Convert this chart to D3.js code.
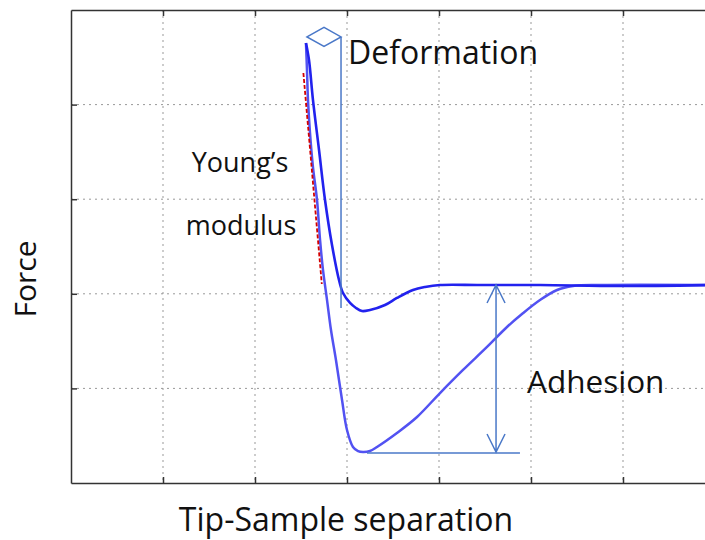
<!DOCTYPE html>
<meta charset="utf-8">
<style>
    body { margin: 0; background: #fff; }
    .grid line { stroke: #999; stroke-width: 1; stroke-dasharray: 2, 4; }
    .axis path, .axis line { stroke: #333; stroke-width: 1.5; }
    text { font-family: "Open Sans", sans-serif; fill: #111; }
</style>
<body>
<svg width="705" height="540"></svg>
<script src="https://d3js.org/d3.v7.min.js"></script>
<script>
    // curve data (arbitrary units)
    var approachX = [2.554, 2.587, 2.630, 2.696, 2.761, 2.837, 2.913, 2.957, 3.033, 3.098, 3.163, 3.250, 3.413, 3.543, 3.717, 3.848, 4.011, 4.446, 5.098, 5.967, 6.95];
    var approachY = [4.651, 4.471, 4.049, 3.520, 2.992, 2.516, 2.146, 2.008, 1.903, 1.850, 1.818, 1.829, 1.882, 1.956, 2.040, 2.072, 2.093, 2.093, 2.093, 2.082, 2.093];

    var retractX = [2.554, 2.565, 2.576, 2.598, 2.630, 2.674, 2.707, 2.739, 2.783, 2.826, 2.880, 2.946, 3.000, 3.065, 3.120, 3.174, 3.250, 3.326, 3.543, 3.761, 4.011, 4.261, 4.522, 4.739, 4.902, 5.098, 5.283, 5.457, 5.750, 6.95];
    var retractY = [4.651, 4.366, 4.049, 3.700, 3.340, 2.992, 2.569, 2.252, 1.934, 1.617, 1.300, 0.877, 0.560, 0.381, 0.338, 0.328, 0.338, 0.381, 0.529, 0.698, 0.951, 1.195, 1.438, 1.649, 1.786, 1.934, 2.040, 2.082, 2.093, 2.093];

    // Young's modulus fit line
    var slopeX = [2.526, 2.726];
    var slopeY = [4.334, 2.104];

    // annotations
    var deformX = [2.565, 2.935], deformY = 4.715, deformBottom = 1.850;
    var adhesionX = 4.620, adhesionTop = 2.093, adhesionBottom = 0.328;
    var baseX = [3.217, 4.880], baseY = 0.317;

    var xTicks = [1, 2, 3, 4, 5, 6];
    var yTicks = [1, 2, 3, 4];

    var svg = d3.select("svg"),
        margin = { top: 10, right: 0, bottom: 57, left: 71 },
        width = +svg.attr("width") - margin.left - margin.right,
        height = +svg.attr("height") - margin.top - margin.bottom;

    var x = d3.scaleLinear().domain([0, 7]).range([0, 7 * 92]),
        y = d3.scaleLinear().domain([0, 5]).range([height, 0]);

    var g = svg.append("g")
        .attr("transform", "translate(" + margin.left + "," + margin.top + ")");

    // grid
    g.append("g").attr("class", "grid")
        .selectAll("line").data(xTicks).enter().append("line")
        .attr("x1", function (d) { return x(d); }).attr("x2", function (d) { return x(d); })
        .attr("y1", 0).attr("y2", height);
    g.append("g").attr("class", "grid")
        .selectAll("line").data(yTicks).enter().append("line")
        .attr("x1", 0).attr("x2", width)
        .attr("y1", function (d) { return y(d); }).attr("y2", function (d) { return y(d); });

    // frame axes, inward ticks, no labels
    g.append("g").attr("class", "axis")
        .call(d3.axisLeft(y).tickValues(yTicks).tickSize(-6).tickSizeOuter(0).tickFormat(""));
    g.append("g").attr("class", "axis")
        .attr("transform", "translate(0," + height + ")")
        .call(d3.axisBottom(x).tickValues(xTicks).tickSize(-6).tickSizeOuter(0).tickFormat(""));
    g.append("g").attr("class", "axis")
        .call(d3.axisTop(x).tickValues(xTicks).tickSize(-6).tickSizeOuter(0).tickFormat(""));

    var line = d3.line()
        .x(function (d) { return x(d[0]); })
        .y(function (d) { return y(d[1]); })
        .curve(d3.curveCatmullRom.alpha(0.5));

    // retract curve (lighter)
    g.append("path")
        .datum(d3.zip(retractX, retractY))
        .attr("d", line)
        .attr("fill", "none")
        .attr("stroke", "#5252f2")
        .attr("stroke-width", 2.5);

    // approach curve (darker)
    g.append("path")
        .datum(d3.zip(approachX, approachY))
        .attr("d", line)
        .attr("fill", "none")
        .attr("stroke", "#2222ee")
        .attr("stroke-width", 2.6);

    // Young's modulus slope
    g.append("line")
        .attr("x1", x(slopeX[0])).attr("y1", y(slopeY[0]))
        .attr("x2", x(slopeX[1])).attr("y2", y(slopeY[1]))
        .attr("stroke", "#d40000")
        .attr("stroke-width", 1.8)
        .attr("stroke-dasharray", "4,2");

    var annot = "#4a78c8";

    // deformation marker
    var dMid = (x(deformX[0]) + x(deformX[1])) / 2;
    g.append("path")
        .attr("d", "M" + x(deformX[0]) + "," + y(deformY) +
            "L" + dMid + "," + (y(deformY) - 9.5) +
            "L" + x(deformX[1]) + "," + y(deformY) +
            "L" + dMid + "," + (y(deformY) + 9.5) + "Z")
        .attr("fill", "none")
        .attr("stroke", annot)
        .attr("stroke-width", 1.5);
    g.append("line")
        .attr("x1", x(deformX[1])).attr("x2", x(deformX[1]))
        .attr("y1", y(deformY)).attr("y2", y(deformBottom))
        .attr("stroke", annot).attr("stroke-width", 1.5);

    // adhesion arrow
    var ax = x(adhesionX), at = y(adhesionTop), ab = y(adhesionBottom);
    g.append("path")
        .attr("d", "M" + ax + "," + at + "L" + ax + "," + ab +
            "M" + (ax - 9) + "," + (at + 18) + "L" + ax + "," + at + "L" + (ax + 9) + "," + (at + 18) +
            "M" + (ax - 9) + "," + (ab - 18) + "L" + ax + "," + ab + "L" + (ax + 9) + "," + (ab - 18))
        .attr("fill", "none")
        .attr("stroke", annot)
        .attr("stroke-width", 1.5);
    g.append("line")
        .attr("x1", x(baseX[0])).attr("x2", x(baseX[1]))
        .attr("y1", y(baseY)).attr("y2", y(baseY))
        .attr("stroke", annot).attr("stroke-width", 1.5);

    // labels
    svg.append("text").attr("x", 348).attr("y", 64)
        .style("font-size", "32px").text("Deformation");
    svg.append("text").attr("x", 240).attr("y", 172)
        .style("font-size", "27px").style("text-anchor", "middle").text("Young’s");
    svg.append("text").attr("x", 241).attr("y", 235)
        .style("font-size", "27px").style("text-anchor", "middle").text("modulus");
    svg.append("text").attr("x", 527).attr("y", 393)
        .style("font-size", "31.5px").text("Adhesion");
    svg.append("text")
        .attr("transform", "translate(36,279) rotate(-90)")
        .style("font-size", "30px").style("text-anchor", "middle").text("Force");
    svg.append("text").attr("x", 346).attr("y", 531)
        .style("font-size", "32px").style("text-anchor", "middle").text("Tip-Sample separation");
</script>
</body>
